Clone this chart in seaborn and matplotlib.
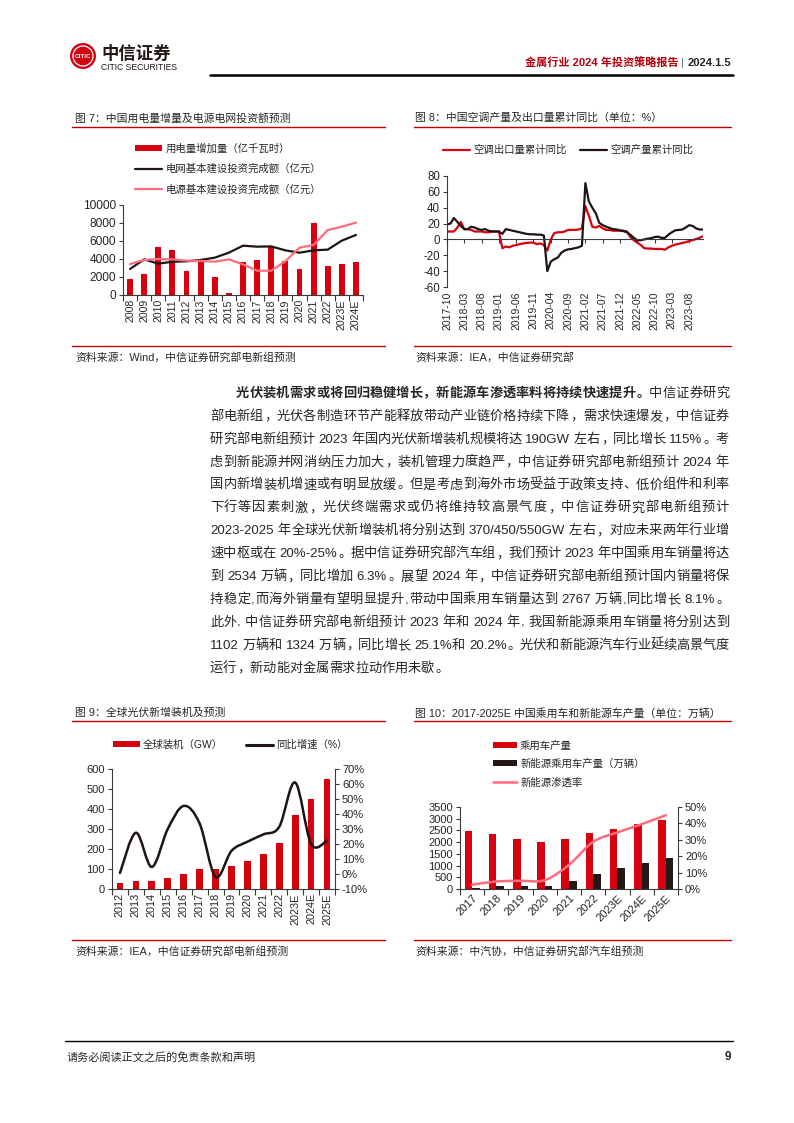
import numpy as np
import pandas as pd
import matplotlib
matplotlib.use("Agg")
import matplotlib.pyplot as plt
import seaborn as sns
from matplotlib.patches import Rectangle, Ellipse, PathPatch
from matplotlib.lines import Line2D
from matplotlib.path import Path
from matplotlib.ticker import FuncFormatter

# ---------------- data ----------------
f7_years = ["2008", "2009", "2010", "2011", "2012", "2013", "2014", "2015", "2016",
            "2017", "2018", "2019", "2020", "2021", "2022", "2023E", "2024E"]
f7_power_increase = [1780, 2300, 5370, 5000, 2650, 3700, 1960, 260, 3700,
                     3900, 5370, 3780, 2890, 8040, 3220, 3440, 3630]
f7_grid_invest = [2890, 3960, 3480, 3700, 3740, 3890, 4150, 4700, 5480,
                  5370, 5400, 4960, 4700, 4960, 5040, 6040, 6670]
f7_source_invest = [3440, 3890, 4000, 3960, 3810, 3780, 3700, 3960, 3400,
                    2700, 2700, 3750, 5260, 5550, 7220, 7590, 8040]
f7_legend = ["用电量增加量（亿千瓦时）", "电网基本建设投资完成额（亿元）", "电源基本建设投资完成额（亿元）"]

f8_tick_labels = ["2017-10", "2018-03", "2018-08", "2019-01", "2019-06", "2019-11",
                  "2020-04", "2020-09", "2021-02", "2021-07", "2021-12", "2022-05",
                  "2022-10", "2023-03", "2023-08"]
f8_export_yoy = [10, 10, 10, 15, 22, 13, 13, 12, 10, 10, 10, 9, 9, 10, 10, 10,
                 -11, -9, -10, -8, -7, -6, -5, -4.5, -4, -4, -6, -5, -7, -14,
                 0, 8, 9, 9, 10, 12, 12, 12, 12.5, 14,
                 42, 30, 16, 15, 17, 14, 12, 12, 11, 11, 11, 11, 10,
                 3, -1, -4, -7, -11, -11.5, -11.5, -12, -12, -12, -13,
                 -10, -8, -6.5, -5.5, -4.5, -3.5, -2, -1, 0.5, 2, 4]
f8_output_yoy = [19, 20, 27, 22, 17, 13, 13, 16, 15, 13, 12, 13, 11, 10, 10, 10,
                 7, 13, 12, 11, 10, 9, 8, 7, 6.5, 6.5, 6, 6, 5, -40,
                 -28, -25, -23, -17, -14, -12.5, -12, -11, -10, -8,
                 71, 48, 40, 33, 21, 18, 16, 14.5, 13, 12.5, 11.5, 10.5, 9,
                 6, 2, -1, -1, 0, 1, 1.5, 3, 3.5, 2, 2,
                 6, 9, 11.5, 12, 12.5, 15, 18, 17, 14, 12.5, 12.5]
f8_legend = ["空调出口量累计同比", "空调产量累计同比"]

f9_years = ["2012", "2013", "2014", "2015", "2016", "2017", "2018", "2019",
            "2020", "2021", "2022", "2023E", "2024E", "2025E"]
f9_capacity_gw = [30, 38, 42, 53, 77, 102, 99, 115, 139, 176, 231, 370, 450, 550]
f9_growth = [0.007, 0.275, 0.047, 0.30, 0.454, 0.337, -0.02, 0.154, 0.215, 0.264,
             0.315, 0.61, 0.20, 0.223]
f9_legend = ["全球装机（GW）", "同比增速（%）"]

f10_years = ["2017", "2018", "2019", "2020", "2021", "2022", "2023E", "2024E", "2025E"]
f10_passenger = [2480, 2350, 2130, 2000, 2140, 2380, 2550, 2760, 2940]
f10_nev = [50, 110, 110, 130, 340, 660, 880, 1100, 1320]
f10_penetration = [0.026, 0.046, 0.05, 0.054, 0.147, 0.288, 0.345, 0.395, 0.45]
f10_legend = ["乘用车产量", "新能源乘用车产量（万辆）", "新能源渗透率"]

body_lines = [
    [("光伏装机需求或将回归稳健增长，新能源车渗透率料将持续快速提升。", "bold"), ("中信证券研究", "normal")],
    [("部电新组，光伏各制造环节产能释放带动产业链价格持续下降，需求快速爆发，中信证券", "normal")],
    [("研究部电新组预计 2023 年国内光伏新增装机规模将达 190GW 左右，同比增长 115%。考", "normal")],
    [("虑到新能源并网消纳压力加大，装机管理力度趋严，中信证券研究部电新组预计 2024 年", "normal")],
    [("国内新增装机增速或有明显放缓。但是考虑到海外市场受益于政策支持、低价组件和利率", "normal")],
    [("下行等因素刺激，光伏终端需求或仍将维持较高景气度，中信证券研究部电新组预计", "normal")],
    [("2023-2025 年全球光伏新增装机将分别达到 370/450/550GW 左右，对应未来两年行业增", "normal")],
    [("速中枢或在 20%-25%。据中信证券研究部汽车组，我们预计 2023 年中国乘用车销量将达", "normal")],
    [("到 2534 万辆，同比增加 6.3%。展望 2024 年，中信证券研究部电新组预计国内销量将保", "normal")],
    [("持稳定,而海外销量有望明显提升,带动中国乘用车销量达到 2767 万辆,同比增长 8.1%。", "normal")],
    [("此外, 中信证券研究部电新组预计 2023 年和 2024 年, 我国新能源乘用车销量将分别达到", "normal")],
    [("1102 万辆和 1324 万辆，同比增长 25.1%和 20.2%。光伏和新能源汽车行业延续高景气度", "normal")],
    [("运行，新动能对金属需求拉动作用未歇。", "normal")],
]

# ---------------- style ----------------
RED = "#D7000F"
PINK = "#FF6B7D"
DARK = "#1E1512"
TITLE_RED = "#C00000"
AXC = "#3a3a3a"

sns.set_style("ticks")
plt.rcParams["font.family"] = ["Liberation Sans", "Noto Sans CJK SC", "DejaVu Sans"]
plt.rcParams["axes.unicode_minus"] = False

W, H = 794, 1123
fig = plt.figure(figsize=(W / 100, H / 100), dpi=100)
fig.patch.set_facecolor("white")
renderer = fig.canvas.get_renderer()


def fx(x):
    return x / W


def fy(y):
    return 1 - y / H


def add_ax(x0, y0, x1, y1):
    return fig.add_axes([fx(x0), fy(y1), (x1 - x0) / W, (y1 - y0) / H])


def hline(x0, x1, y, color, lw):
    fig.add_artist(Line2D([fx(x0), fx(x1)], [fy(y), fy(y)], color=color, lw=lw,
                          transform=fig.transFigure))


def style_spines(ax, left=True, right=False, bottom=True):
    ax.spines["top"].set_visible(False)
    ax.spines["left"].set_visible(left)
    ax.spines["right"].set_visible(right)
    ax.spines["bottom"].set_visible(bottom)
    for s in ax.spines.values():
        s.set_color(AXC)
        s.set_linewidth(0.8)
    ax.set_xlabel("")
    ax.set_ylabel("")


def cat_axis(ax, labels, rotation, fontsize, diag=False):
    n = len(labels)
    ax.set_xticks(np.arange(-0.5, n, 1.0))
    ax.set_xticklabels([])
    ax.set_xticks(np.arange(n), labels=labels, minor=True)
    ax.tick_params(axis="x", which="major", length=4, width=0.8, color=AXC, direction="out")
    ax.tick_params(axis="x", which="minor", length=0, pad=3, labelsize=fontsize,
                   labelrotation=rotation)
    if diag:
        for lab in ax.get_xticklabels(minor=True):
            lab.set_ha("right")
            lab.set_rotation_mode("anchor")
    ax.set_xlim(-0.5, n - 0.5)


def smooth_path(xs, ys):
    pts = np.column_stack([np.asarray(xs, float), np.asarray(ys, float)])
    n = len(pts)
    verts = [pts[0]]
    codes = [Path.MOVETO]
    for i in range(n - 1):
        p0 = pts[i - 1] if i > 0 else pts[i]
        p1 = pts[i]
        p2 = pts[i + 1]
        p3 = pts[i + 2] if i + 2 < n else pts[i + 1]
        verts += [p1 + (p2 - p0) / 6.0, p2 - (p3 - p1) / 6.0, p2]
        codes += [Path.CURVE4] * 3
    return Path(verts, codes)


def legend_at(ax, handles, labels, x, y, ncol=1, fs=7.5, hl=2.6, hh=0.5, htp=0.3,
              ls=1.0, cs=1.5):
    ax.legend(handles, labels, loc="center left", bbox_to_anchor=(fx(x), fy(y)),
              bbox_transform=fig.transFigure, frameon=False, fontsize=fs, ncol=ncol,
              handlelength=hl, handleheight=hh, handletextpad=htp, labelspacing=ls,
              columnspacing=cs, borderpad=0, borderaxespad=0)


# ---------------- header ----------------
fig.add_artist(Ellipse((fx(83), fy(56)), 26 / W, 26 / H, facecolor="#D2000F",
                       edgecolor="none", transform=fig.transFigure))
fig.add_artist(Ellipse((fx(83), fy(56)), 20 / W, 20 / H, facecolor="none",
                       edgecolor="white", lw=0.9, transform=fig.transFigure))
fig.text(fx(83), fy(56.5), "CITIC", color="white", fontsize=4.6, weight="bold",
         ha="center", va="center", family=["Liberation Sans Narrow", "Liberation Sans"])
fig.text(fx(101), fy(53), "中信证券", fontsize=12.5, weight="bold", color="#231815",
         va="center", ha="left")
fig.text(fx(101), fy(67), "CITIC SECURITIES", fontsize=6.2, color="#231815",
         va="center", ha="left", family=["Liberation Sans Narrow", "Liberation Sans"])

xr = 731
t = fig.text(fx(xr), fy(63), "2024.1.5", fontsize=8, weight="bold", ha="right", va="center")
xr -= t.get_window_extent(renderer).width + 3
t = fig.text(fx(xr), fy(63), "|", fontsize=8, color="#666666", ha="right", va="center")
xr -= t.get_window_extent(renderer).width + 3
fig.text(fx(xr), fy(63), "金属行业 2024 年投资策略报告", fontsize=8, weight="bold",
         color="#B5000C", ha="right", va="center")
hline(210, 733, 75, "black", 1.8)

# ---------------- chart titles / sources ----------------
fig.text(fx(75), fy(118), "图 7：中国用电量增量及电源电网投资额预测", fontsize=7.8, va="center")
fig.text(fx(415), fy(118), "图 8：中国空调产量及出口量累计同比（单位：%）", fontsize=7.8, va="center")
hline(72, 385, 127, TITLE_RED, 1.0)
hline(414, 731, 127, TITLE_RED, 1.0)
hline(72, 385, 346, TITLE_RED, 1.0)
hline(414, 731, 346, TITLE_RED, 1.0)
fig.text(fx(75), fy(357), "资料来源：Wind，中信证券研究部电新组预测", fontsize=7.8, va="center")
fig.text(fx(415), fy(357), "资料来源：IEA，中信证券研究部", fontsize=7.8, va="center")

fig.text(fx(75), fy(713), "图 9：全球光伏新增装机及预测", fontsize=7.8, va="center")
fig.text(fx(415), fy(713), "图 10：2017-2025E 中国乘用车和新能源车产量（单位：万辆）",
         fontsize=7.8, va="center")
hline(72, 385, 721, TITLE_RED, 1.0)
hline(414, 731, 721, TITLE_RED, 1.0)
hline(72, 385, 940, TITLE_RED, 1.0)
hline(414, 731, 940, TITLE_RED, 1.0)
fig.text(fx(75), fy(951), "资料来源：IEA，中信证券研究部电新组预测", fontsize=7.8, va="center")
fig.text(fx(415), fy(951), "资料来源：中汽协，中信证券研究部汽车组预测", fontsize=7.8, va="center")

# ---------------- footer ----------------
hline(65, 733, 1041, "black", 1.0)
fig.text(fx(67), fy(1057), "请务必阅读正文之后的免责条款和声明", fontsize=8, va="center")
fig.text(fx(731), fy(1057), "9", fontsize=8.5, weight="bold", ha="right", va="center")

# ---------------- chart 7 ----------------
ax7 = add_ax(123, 205, 363, 295)
sns.barplot(x=f7_years, y=f7_power_increase, color=RED, saturation=1, width=0.42,
            linewidth=0, ax=ax7)
x7 = np.arange(len(f7_years))
sns.lineplot(x=x7, y=f7_grid_invest, color=DARK, lw=1.6, sort=False, ax=ax7)
sns.lineplot(x=x7, y=f7_source_invest, color=PINK, lw=1.6, sort=False, ax=ax7)
ax7.set_ylim(0, 10000)
ax7.set_yticks(range(0, 10001, 2000))
ax7.tick_params(axis="y", labelsize=8.6, length=3, width=0.8, color=AXC, pad=2)
cat_axis(ax7, f7_years, 90, 7.6)
style_spines(ax7)
legend_at(ax7,
          [Rectangle((0, 0), 1, 1, facecolor=RED, lw=0),
           Line2D([], [], color=DARK, lw=1.6), Line2D([], [], color=PINK, lw=1.6)],
          f7_legend, 135, 169, ls=0.95)

# ---------------- chart 8 ----------------
ax8 = add_ax(447, 176, 703, 287)
x8 = np.arange(len(f8_export_yoy))
sns.lineplot(x=x8, y=f8_export_yoy, color=RED, lw=1.6, sort=False, ax=ax8)
sns.lineplot(x=x8, y=f8_output_yoy, color=DARK, lw=1.6, sort=False, ax=ax8)
ax8.set_xlim(0, len(f8_export_yoy) - 1)
ax8.set_ylim(-60, 80)
ax8.set_yticks(range(-60, 81, 20))
ax8.tick_params(axis="y", labelsize=8.3, length=3, width=0.8, color=AXC, pad=2)
style_spines(ax8)
ax8.spines["bottom"].set_position(("data", 0))
tick_pos8 = np.arange(0, len(f8_export_yoy), 5)[:len(f8_tick_labels)]
ax8.set_xticks(tick_pos8)
ax8.tick_params(axis="x", labelbottom=False, length=3, width=0.8, color=AXC, direction="out")
sec8 = ax8.secondary_xaxis("bottom")
sec8.set_xticks(tick_pos8, labels=f8_tick_labels)
sec8.tick_params(length=0, labelrotation=90, labelsize=7.5, pad=3)
sec8.spines["bottom"].set_visible(False)
legend_at(ax8, [Line2D([], [], color=RED, lw=1.6), Line2D([], [], color=DARK, lw=1.6)],
          f8_legend, 443, 150, ncol=2, cs=1.3)

# ---------------- chart 9 ----------------
ax9 = add_ax(112, 769, 335, 889)
sns.barplot(x=f9_years, y=f9_capacity_gw, color=RED, saturation=1, width=0.42,
            linewidth=0, ax=ax9)
ax9.set_ylim(0, 600)
ax9.set_yticks(range(0, 601, 100))
ax9.tick_params(axis="y", labelsize=8, length=3, width=0.8, color=AXC, pad=2)
cat_axis(ax9, f9_years, 90, 7.8)
style_spines(ax9)
ax9r = ax9.twinx()
x9 = np.arange(len(f9_years))
ax9r.add_patch(PathPatch(smooth_path(x9, f9_growth), facecolor="none", edgecolor=DARK,
                         lw=1.8, joinstyle="round", capstyle="round"))
ax9r.set_ylim(-0.10, 0.70)
ax9r.set_yticks(np.round(np.arange(-0.10, 0.701, 0.10), 2))
ax9r.yaxis.set_major_formatter(FuncFormatter(lambda v, p: f"{round(v * 100):d}%"))
ax9r.tick_params(axis="y", labelsize=8, length=3, width=0.8, color=AXC, pad=2)
style_spines(ax9r, left=False, right=True, bottom=False)
ax9.set_xlim(-0.5, len(f9_years) - 0.5)
legend_at(ax9r, [Rectangle((0, 0), 1, 1, facecolor=RED, lw=0), Line2D([], [], color=DARK, lw=2.2)],
          f9_legend, 113, 745, ncol=2, cs=2.2)

# ---------------- chart 10 ----------------
ax10 = add_ax(460, 807, 678, 889)
df10 = pd.DataFrame({
    "year": f10_years + f10_years,
    "series": [f10_legend[0]] * len(f10_years) + [f10_legend[1]] * len(f10_years),
    "value": f10_passenger + f10_nev,
})
sns.barplot(data=df10, x="year", y="value", hue="series", palette=[RED, "#231815"],
            saturation=1, width=0.62, gap=0, linewidth=0, legend=False, ax=ax10)
ax10.set_ylim(0, 3500)
ax10.set_yticks(range(0, 3501, 500))
ax10.tick_params(axis="y", labelsize=8, length=3, width=0.8, color=AXC, pad=2)
cat_axis(ax10, f10_years, 45, 8, diag=True)
style_spines(ax10)
ax10r = ax10.twinx()
x10 = np.arange(len(f10_years))
ax10r.add_patch(PathPatch(smooth_path(x10, f10_penetration), facecolor="none", edgecolor=PINK,
                          lw=1.8, joinstyle="round", capstyle="round"))
ax10r.set_ylim(0, 0.5)
ax10r.set_yticks(np.round(np.arange(0, 0.501, 0.1), 2))
ax10r.yaxis.set_major_formatter(FuncFormatter(lambda v, p: f"{round(v * 100):d}%"))
ax10r.tick_params(axis="y", labelsize=8, length=3, width=0.8, color=AXC, pad=2)
style_spines(ax10r, left=False, right=True, bottom=False)
ax10.set_xlim(-0.5, len(f10_years) - 0.5)
legend_at(ax10r,
          [Rectangle((0, 0), 1, 1, facecolor=RED, lw=0),
           Rectangle((0, 0), 1, 1, facecolor="#231815", lw=0),
           Line2D([], [], color=PINK, lw=1.8)],
          f10_legend, 493, 764, hl=2.3, ls=0.8)

# ---------------- body text ----------------
FS = 9.5
EM = FS * 100 / 72
PUNCT = set("，。：、；！？")


def tokenize(segments):
    toks = []
    for text, weight in segments:
        buf = ""
        for ch in text:
            if ch == " ":
                if buf:
                    toks.append([buf, weight, 0.0, "a"])
                    buf = ""
                if toks:
                    toks[-1][2] += 0.25 * EM
            elif ord(ch) > 0x2E80:
                if buf:
                    toks.append([buf, weight, 0.0, "a"])
                    buf = ""
                toks.append([ch, weight, 0.0, "p" if ch in PUNCT else "c"])
            else:
                buf += ch
        if buf:
            toks.append([buf, weight, 0.0, "a"])
    return toks


def draw_line(segments, x0, x1, yc, justify=True):
    toks = tokenize(segments)
    yb = fy(yc + 0.36 * EM)
    arts, widths = [], []
    for txt, weight, sp, kind in toks:
        ha = "center" if kind == "c" else "left"
        a = fig.text(0, yb, txt, fontsize=FS, weight=weight, ha=ha, va="baseline")
        if kind == "a":
            widths.append(a.get_window_extent(renderer).width + 0.07 * EM)
        else:
            widths.append(EM)
        arts.append(a)
    total = sum(widths) + sum(tk[2] for tk in toks)
    gap = (x1 - x0 - total) / (len(toks) - 1) if (justify and len(toks) > 1) else 0.0
    x = x0
    for a, wd, tk in zip(arts, widths, toks):
        if tk[3] == "c":
            a.set_x(fx(x + EM / 2))
        elif tk[3] == "p":
            a.set_x(fx(x + 0.06 * EM))
        else:
            a.set_x(fx(x + 0.03 * EM))
        x += wd + tk[2] + gap


for i, segs in enumerate(body_lines):
    y = 392 + 22.92 * i
    x0 = 236 if i == 0 else 210
    draw_line(segs, x0, 729, y, justify=(i < len(body_lines) - 1))

fig.savefig("out.png", dpi=100, facecolor="white")
